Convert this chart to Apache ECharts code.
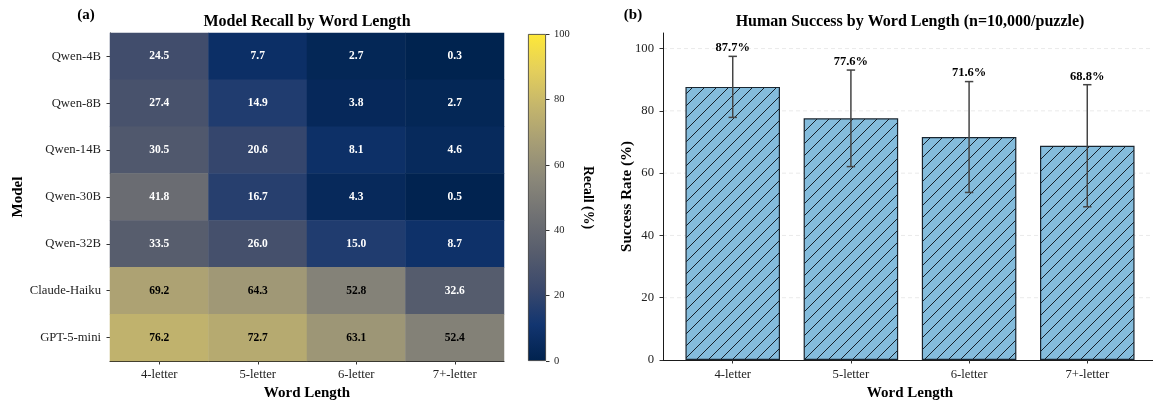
<!DOCTYPE html>
<html><head><meta charset="utf-8">
<script src="https://cdn.jsdelivr.net/npm/echarts@6/dist/echarts.min.js"></script>
<style>html,body{margin:0;padding:0;background:#fff}#c{width:1153px;height:402px}</style>
</head><body><div id="c"></div>
<script>
// ---------- data ----------
const models = ['Qwen-4B','Qwen-8B','Qwen-14B','Qwen-30B','Qwen-32B','Claude-Haiku','GPT-5-mini'];
const wordLengths = ['4-letter','5-letter','6-letter','7+-letter'];
const recallQwen4B      = [24.5, 7.7, 2.7, 0.3];
const recallQwen8B      = [27.4, 14.9, 3.8, 2.7];
const recallQwen14B     = [30.5, 20.6, 8.1, 4.6];
const recallQwen30B     = [41.8, 16.7, 4.3, 0.5];
const recallQwen32B     = [33.5, 26.0, 15.0, 8.7];
const recallClaudeHaiku = [69.2, 64.3, 52.8, 32.6];
const recallGPT5mini    = [76.2, 72.7, 63.1, 52.4];
const humanSuccess = [87.7, 77.6, 71.6, 68.8];
const humanErr     = [9.8, 15.5, 17.8, 19.6];
const barYTicks = [0, 20, 40, 60, 80, 100];
const cividis = ['#00224e','#123570','#3b496c','#575d6d','#707173','#8a8779','#a69d75','#c4b56c','#e4cf5b','#fee838'];

const recallRows = [recallQwen4B, recallQwen8B, recallQwen14B, recallQwen30B, recallQwen32B, recallClaudeHaiku, recallGPT5mini];
const FONT = '"Liberation Serif", "Times New Roman", serif';

const heatData = [];
recallRows.forEach((row, yi) => row.forEach((v, xi) => {
  heatData.push({ value: [xi, yi, v], label: { color: v > 50 ? '#000' : '#fff' } });
}));

function hatch() {
  const s = 12, c = document.createElement('canvas');
  c.width = s; c.height = s;
  const g = c.getContext('2d');
  g.fillStyle = '#84bcdc'; g.fillRect(0, 0, s, s);
  g.strokeStyle = '#15202a'; g.lineWidth = 1;
  g.beginPath();
  for (const o of [-s, 0, s]) { g.moveTo(o - 1, s + 1); g.lineTo(o + s + 1, -1); }
  g.stroke();
  return c;
}

const barGrid = { left: 663, top: 33, width: 494, height: 327, outerBoundsMode: 'none' };
const xMin = -0.59, xMax = 3.59;
const barPx = 0.8 * barGrid.width / (xMax - xMin);

const axisLineDark = { show: true, onZero: false, lineStyle: { color: '#1a1a1a', width: 1 } };
const tickDark = { show: true, length: 3.5, lineStyle: { color: '#333', width: 1 } };
const labelStyle = { fontFamily: FONT, fontSize: 12.7, color: '#222' };
const nameStyle = { fontFamily: FONT, fontSize: 15, fontWeight: 'bold', color: '#000' };

const chart = echarts.init(document.getElementById('c'));
chart.setOption({
  animation: false,
  backgroundColor: '#fff',
  grid: [
    { left: 110, top: 33, width: 394, height: 328, outerBoundsMode: 'none' },
    barGrid,
    { left: 528, top: 34, width: 18, height: 327, outerBoundsMode: 'none' }
  ],
  xAxis: [
    { type: 'category', gridIndex: 0, data: wordLengths,
      axisLine: axisLineDark, axisTick: Object.assign({ alignWithLabel: true }, tickDark),
      axisLabel: Object.assign({ margin: 7 }, labelStyle),
      name: 'Word Length', nameLocation: 'middle', nameGap: 21, nameTextStyle: nameStyle },
    { type: 'value', gridIndex: 1, min: xMin, max: xMax,
      axisLine: axisLineDark,
      axisTick: Object.assign({ customValues: [0, 1, 2, 3] }, tickDark),
      axisLabel: Object.assign({ margin: 8, customValues: [0, 1, 2, 3], formatter: v => wordLengths[Math.round(v)] }, labelStyle),
      splitLine: { show: false },
      name: 'Word Length', nameLocation: 'middle', nameGap: 22, nameTextStyle: nameStyle },
    { type: 'category', gridIndex: 2, data: [''], show: false }
  ],
  yAxis: [
    { type: 'category', gridIndex: 0, data: models, inverse: true,
      axisLine: axisLineDark, axisTick: Object.assign({ alignWithLabel: true }, tickDark),
      axisLabel: Object.assign({ margin: 9 }, labelStyle),
      name: 'Model', nameLocation: 'middle', nameGap: 84, nameTextStyle: nameStyle },
    { type: 'value', gridIndex: 1, min: 0, max: 105,
      axisLine: axisLineDark,
      axisTick: Object.assign({ customValues: barYTicks }, tickDark),
      axisLabel: Object.assign({ margin: 9, customValues: barYTicks }, labelStyle),
      splitLine: { show: false },
      name: 'Success Rate (%)', nameLocation: 'middle', nameGap: 28, nameMoveOverlap: false, nameTextStyle: nameStyle },
    { type: 'value', gridIndex: 2, min: 0, max: 100, interval: 20, position: 'right',
      axisLine: { show: false }, axisTick: tickDark,
      axisLabel: { margin: 8, fontFamily: FONT, fontSize: 10.5, color: '#222' },
      splitLine: { show: false },
      name: 'Recall (%)', nameLocation: 'middle', nameRotate: -90, nameGap: 35,
      nameTextStyle: { fontFamily: FONT, fontSize: 13.8, fontWeight: 'bold', color: '#000' } }
  ],
  visualMap: { type: 'continuous', show: false, min: 0, max: 100, seriesIndex: 0, inRange: { color: cividis } },
  series: [
    { type: 'heatmap', xAxisIndex: 0, yAxisIndex: 0, data: heatData,
      label: { show: true, fontFamily: FONT, fontSize: 11.5, fontWeight: 'bold', formatter: p => p.value[2].toFixed(1) } },
    { type: 'custom', xAxisIndex: 1, yAxisIndex: 1, z: 1, silent: true,
      data: barYTicks.filter(v => v > 0).map(v => [0, v]),
      encode: { x: 0, y: 1 },
      renderItem: (params, api) => {
        const y = api.coord([0, api.value(1)])[1];
        const cs = params.coordSys;
        return { type: 'line', shape: { x1: cs.x, y1: y, x2: cs.x + cs.width, y2: y },
          style: { stroke: 'rgba(0,0,0,0.11)', lineWidth: 0.8, lineDash: [4, 3] } };
      } },
    { type: 'bar', xAxisIndex: 1, yAxisIndex: 1, z: 2, barWidth: barPx,
      data: humanSuccess.map((v, i) => [i, v]),
      itemStyle: { color: { image: hatch(), repeat: 'repeat' }, borderColor: '#1a2630', borderWidth: 1.2 } },
    { type: 'custom', xAxisIndex: 1, yAxisIndex: 1, z: 5, silent: true,
      data: humanSuccess.map((v, i) => [i, v - humanErr[i], v + humanErr[i], v]),
      encode: { x: 0, y: [1, 2] },
      renderItem: (params, api) => {
        const x = api.value(0), lo = api.value(1), hi = api.value(2), v = api.value(3);
        const t = api.coord([x, hi]), b = api.coord([x, lo]), lab = api.coord([x, hi + 0.6]);
        const cw = 4.2, st = { stroke: '#444', lineWidth: 1.5 };
        return { type: 'group', children: [
          { type: 'line', shape: { x1: t[0], y1: t[1], x2: b[0], y2: b[1] }, style: st },
          { type: 'line', shape: { x1: t[0] - cw, y1: t[1], x2: t[0] + cw, y2: t[1] }, style: st },
          { type: 'line', shape: { x1: b[0] - cw, y1: b[1], x2: b[0] + cw, y2: b[1] }, style: st },
          { type: 'text', x: lab[0], y: lab[1], style: { text: v.toFixed(1) + '%', font: 'bold 12.5px ' + FONT,
            fill: '#000', align: 'center', verticalAlign: 'bottom', textAlign: 'center', textVerticalAlign: 'bottom' } }
        ] };
      } },
    { type: 'bar', xAxisIndex: 2, yAxisIndex: 2, data: [100], barWidth: '100%', silent: true,
      itemStyle: { borderColor: '#333', borderWidth: 0.8,
        color: new echarts.graphic.LinearGradient(0, 1, 0, 0, cividis.map((c, i) => ({ offset: i / (cividis.length - 1), color: c }))) } }
  ],
  graphic: [
    { type: 'text', x: 307, y: 22, style: { text: 'Model Recall by Word Length', font: 'bold 16px ' + FONT, fill: '#000',
      align: 'center', verticalAlign: 'middle', textAlign: 'center', textVerticalAlign: 'middle' } },
    { type: 'text', x: 910, y: 22, style: { text: 'Human Success by Word Length (n=10,000/puzzle)', font: 'bold 16px ' + FONT, fill: '#000',
      align: 'center', verticalAlign: 'middle', textAlign: 'center', textVerticalAlign: 'middle' } },
    { type: 'text', x: 86, y: 15, style: { text: '(a)', font: 'bold 15px ' + FONT, fill: '#000',
      align: 'center', verticalAlign: 'middle', textAlign: 'center', textVerticalAlign: 'middle' } },
    { type: 'text', x: 633, y: 15, style: { text: '(b)', font: 'bold 15px ' + FONT, fill: '#000',
      align: 'center', verticalAlign: 'middle', textAlign: 'center', textVerticalAlign: 'middle' } }
  ]
});
</script></body></html>
